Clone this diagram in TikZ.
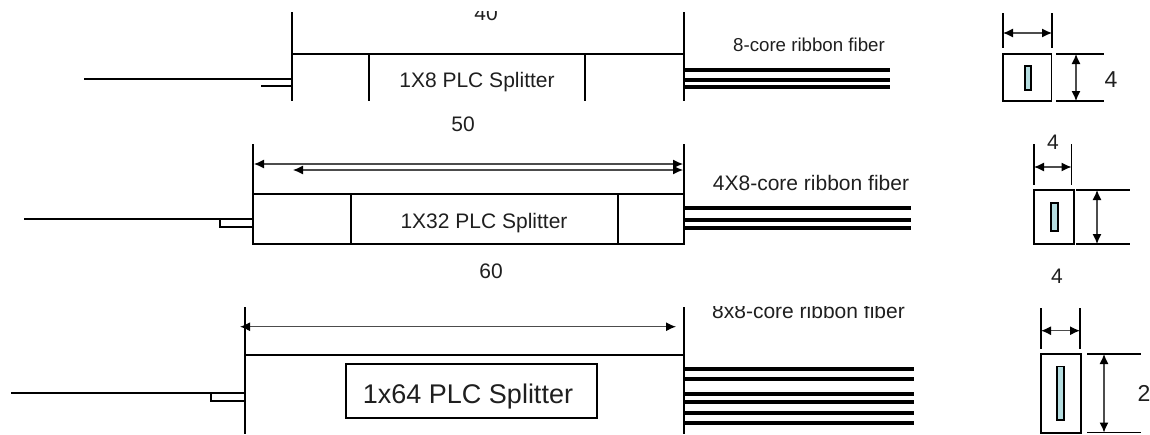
\documentclass[tikz,border=0pt]{standalone}
\usepackage{fontspec}
\setmainfont{Liberation Sans}
\usetikzlibrary{arrows.meta}
\definecolor{corecol}{HTML}{B5DDE0}
\tikzset{
  heavy/.style={line width=2pt,black},
  ribbon/.style={line width=4pt,black},
  fibre/.style={line width=2pt,black},
  dimline/.style={line width=1.2pt,black!70,{Latex[length=10pt,width=9pt,black]}-{Latex[length=10pt,width=9pt,black]}},
  ext/.style={line width=1.5pt,black},
  core/.style={draw=black,line width=1.5pt,fill=corecol},
  face/.style={draw=black,line width=1.7pt},
  lab/.style={inner sep=0pt,anchor=base,text=black!88,font=\fontsize{21}{23}\selectfont},
  bigdigit/.style={lab,font=\fontsize{23}{25}\selectfont},
}
\begin{document}
\begin{tikzpicture}[x=1pt,y=-1pt]
\useasboundingbox (0,0) rectangle (1150,434);
% ---- row 1
\draw[heavy] (291.5,12) -- (291.5,101);
\draw[heavy] (291.5,54) -- (684,54);
\draw[heavy] (684,12) -- (684,101);
\draw[heavy] (369,54) -- (369,101);
\draw[heavy] (585,54) -- (585,101);
\draw[fibre] (84,79) -- (291.5,79);
\draw[fibre] (261,86) -- (291.5,86);
\foreach \y in {70,80,87} \draw[ribbon] (684,\y) -- (890,\y);
\begin{scope}
\clip (440,11) rectangle (540,30);
\node[lab] (t40) at (486,20.5) {40};
\end{scope}
\node[lab] (n1) at (477,87) {1X8 PLC Splitter};
\node[lab,font=\fontsize{18.7}{21}\selectfont] (r1) at (809,51.7) {8-core ribbon fiber};
\draw[face] (1003,54) rectangle (1051.5,101);
\draw[core] (1025,66) rectangle (1031,90);
\draw[ext] (1003,13) -- (1003,48);
\draw[ext] (1052,13) -- (1052,48);
\draw[dimline] (1003,33) -- (1052,33);
\draw[ext] (1056,54) -- (1104,54);
\draw[ext] (1056,101) -- (1104,101);
\draw[dimline] (1076,54) -- (1076,101);
\node[bigdigit] (d1) at (1111,87.6) {4};
% ---- row 2
\node[lab] (t50) at (463,131) {50};
\draw[heavy] (253,144) -- (253,245);
\draw[heavy] (684,144) -- (684,245);
\draw[heavy] (253,194) -- (684,194);
\draw[heavy] (253,244) -- (684,244);
\draw[heavy] (351,194) -- (351,244);
\draw[heavy] (618,194) -- (618,244);
\draw[fibre] (24,219) -- (253,219);
\draw[fibre] (253,227) -- (219,227);
\draw[fibre] (220,219) -- (220,227);
\foreach \y in {208,220,228} \draw[ribbon] (684,\y) -- (911,\y);
\draw[dimline] (254,164) -- (683,164);
\draw[dimline] (293,170) -- (683,170);
\node[lab] (n2) at (484,228) {1X32 PLC Splitter};
\node[lab] (r2) at (811,190) {4X8-core ribbon fiber};
\draw[face] (1034,190) rectangle (1074,244);
\draw[core] (1051,203) rectangle (1058,231);
\draw[ext] (1034,144) -- (1034,185);
\draw[ext] (1071.5,144) -- (1071.5,185);
\draw[dimline] (1034,167) -- (1071.5,167);
\draw[ext] (1076,190) -- (1130,190);
\draw[ext] (1076,244) -- (1130,244);
\draw[dimline] (1097,190) -- (1097,244);
\node[lab] (d2) at (1053,149.5) {4};
% ---- row 3
\node[lab] (t60) at (491,278.5) {60};
\node[lab] (d3) at (1057,283) {4};
\draw[heavy] (245,307) -- (245,434);
\draw[heavy] (684,307) -- (684,434);
\draw[heavy] (245,355) -- (684,355);
\draw[fibre] (11,393) -- (245,393);
\draw[fibre] (245,401) -- (211,401);
\draw[fibre] (211,393) -- (211,402);
\foreach \y in {368.7,378.7,393.7,401.7,412.7,422.7} \draw[ribbon] (684,\y) -- (914,\y);
\draw[dimline] (240,326.7) -- (676,326.7);
\node[draw=black,line width=1.5pt,minimum width=251pt,minimum height=54pt] (n3) at (471.5,391) {};
\node[lab,font=\fontsize{27}{29}\selectfont] (n3t) at (468,403) {1x64 PLC Splitter};
\begin{scope}
\clip (700,306.7) rectangle (930,330);
\node[lab] (r3) at (808.5,318) {8x8-core ribbon fiber};
\end{scope}
\draw[face] (1041,353.7) rectangle (1081,433);
\draw[core] (1057,366.7) rectangle (1064,420);
\draw[ext] (1041,308) -- (1041,349);
\draw[ext] (1080,308) -- (1080,349);
\draw[dimline] (1041,330.7) -- (1080,330.7);
\draw[ext] (1087,354) -- (1141,354);
\draw[ext] (1087,432.5) -- (1141,432.5);
\draw[dimline] (1104,354) -- (1104,432.5);
\node[bigdigit] (d4) at (1144,401) {2};
\end{tikzpicture}
\end{document}
